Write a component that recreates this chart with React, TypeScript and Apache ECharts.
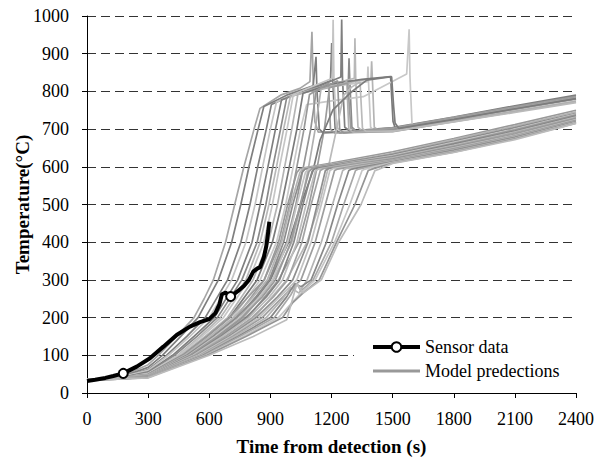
import React, { useEffect, useRef } from "react";
import * as echarts from "echarts";

// ---- Data (time s, temperature °C) ----
const xTicks = [0, 300, 600, 900, 1200, 1500, 1800, 2100, 2400];
const yTicks = [0, 100, 200, 300, 400, 500, 600, 700, 800, 900, 1000];

const sensorData: number[][] = [
  [0, 32], [40, 35], [90, 40], [129, 45], [178, 52], [244, 70], [309, 92], [375, 123],
  [440, 154], [505, 176], [555, 188], [600, 196], [630, 212], [650, 235], [662, 262],
  [680, 266], [705, 256], [740, 270], [770, 284], [795, 300], [816, 322], [835, 330],
  [850, 334], [868, 360], [880, 390], [890, 430], [895, 454],
];
const sensorMarkerTimes = [178, 705];

// Model predictions reaching flashover (upper group)
const u1 = [[0,35],[150,40],[300,75],[350,100],[440,150],[525,200],[575,250],[620,300],[680,400],[725,500],[770,600],[820,700],[849,755],[950,790],[1045,808],[1094,826],[1104,958],[1110,830],[1118,720],[1135,692],[1300,695],[1500,700],[1800,728],[2100,758],[2400,785]];
const u2 = [[0,34],[150,39],[300,68],[370,100],[460,150],[545,200],[645,300],[710,400],[755,500],[795,600],[840,700],[868,760],[980,790],[1110,815],[1124,892],[1128,810],[1140,700],[1160,690],[1500,698],[1800,726],[2100,755],[2400,782]];
const u3 = [[0,35],[150,39],[300,62],[390,100],[490,150],[580,200],[690,300],[755,400],[800,500],[838,600],[880,700],[905,765],[1050,800],[1195,828],[1201,928],[1207,820],[1218,700],[1240,690],[1500,702],[1800,730],[2100,760],[2400,787]];
const u4 = [[0,36],[150,40],[300,60],[400,100],[505,150],[600,200],[710,300],[780,400],[825,500],[862,600],[900,700],[930,772],[1070,805],[1204,835],[1208,990],[1212,830],[1225,705],[1250,692],[1500,697],[1800,724],[2100,752],[2400,780]];
const u5 = [[0,34],[150,38],[300,56],[420,100],[525,150],[625,200],[740,300],[810,400],[850,500],[888,600],[925,700],[955,778],[1100,805],[1246,838],[1250,991],[1254,835],[1265,705],[1290,695],[1500,704],[1800,732],[2100,762],[2400,790]];
const u6 = [[0,35],[150,39],[300,54],[430,100],[540,150],[640,200],[760,300],[835,400],[878,500],[912,600],[950,700],[980,783],[1120,808],[1283,830],[1286,888],[1290,825],[1300,705],[1320,695],[1500,695],[1800,722],[2100,750],[2400,778]];
const u7 = [[0,35],[150,38],[300,52],[445,100],[555,150],[655,200],[780,300],[850,400],[893,500],[930,600],[965,700],[998,786],[1150,812],[1312,835],[1315,941],[1319,830],[1330,705],[1350,695],[1500,700],[1800,727],[2100,756],[2400,784]];
const u8 = [[0,34],[150,38],[300,51],[450,100],[565,150],[670,200],[795,300],[868,400],[910,500],[945,600],[982,700],[1012,790],[1170,810],[1376,826],[1379,866],[1382,822],[1392,705],[1410,695],[1500,696],[1800,722],[2100,748],[2400,775]];
const u9 = [[0,35],[150,39],[300,50],[460,100],[580,150],[690,200],[815,300],[890,400],[935,500],[970,600],[1005,700],[1035,792],[1200,815],[1394,834],[1397,880],[1401,828],[1410,705],[1430,697],[1500,701],[1800,729],[2100,757],[2400,783]];
const u10 = [[0,36],[150,40],[300,49],[470,100],[590,150],[700,200],[835,300],[910,400],[955,500],[993,600],[1030,700],[1060,795],[1200,820],[1350,832],[1490,839],[1502,720],[1515,700],[1800,724],[2100,752],[2400,779]];
const u11 = [[0,35],[150,39],[300,48],[480,100],[600,150],[715,200],[850,300],[930,400],[975,500],[1012,600],[1048,700],[1078,765],[1200,775],[1356,786],[1569,846],[1581,965],[1585,840],[1595,715],[1610,705],[1800,725],[2100,750],[2400,776]];
const u12 = [[0,34],[150,38],[300,47],[490,100],[615,150],[730,200],[870,300],[950,400],[995,500],[1030,600],[1065,700],[1092,792],[1185,822],[1195,700],[1215,690],[1500,693],[1800,720],[2100,746],[2400,772]];
const u13 = [[0,35],[150,39],[300,46],[500,100],[630,150],[750,200],[895,300],[980,400],[1025,500],[1062,600],[1098,700],[1125,800],[1200,820],[1230,828],[1240,700],[1260,690],[1500,699],[1800,725],[2100,753],[2400,781]];
const u14 = [[0,34],[150,38],[300,45],[510,100],[645,150],[770,200],[915,300],[1005,400],[1050,500],[1088,600],[1120,700],[1148,805],[1250,818],[1275,826],[1285,700],[1305,692],[1500,695],[1800,721],[2100,747],[2400,773]];
const u15 = [[0,35],[150,38],[300,44],[520,100],[660,150],[790,200],[940,300],[1040,400],[1090,500],[1130,600],[1165,700],[1190,810],[1280,822],[1295,702],[1320,695],[1500,703],[1800,731],[2100,759],[2400,786]];
const u16 = [[0,34],[150,37],[300,43],[540,100],[680,150],[820,200],[980,300],[1080,400],[1140,500],[1185,600],[1225,700],[1260,790],[1300,812],[1340,825],[1352,702],[1370,694],[1500,694],[1800,719],[2100,744],[2400,770]];
const u17 = [[0,35],[150,39],[300,45],[500,100],[640,150],[760,200],[900,300],[990,400],[1050,500],[1110,591],[1144,671],[1207,751],[1290,795],[1373,830],[1495,839],[1505,760],[1512,716],[1530,702],[1800,726],[2100,754],[2400,781]];

// Model predictions without flashover (lower group)
const l1 = [[0,35],[150,39],[300,49],[470,100],[590,150],[700,200],[800,260],[870,300],[940,400],[985,500],[1030,585],[1045,595],[1200,610],[1500,640],[1800,675],[2100,712],[2400,750]];
const l2 = [[0,34],[150,38],[300,48],[480,100],[605,150],[720,200],[815,255],[885,300],[955,400],[1000,500],[1045,585],[1060,596],[1200,607],[1500,636],[1800,672],[2100,708],[2400,746]];
const l3 = [[0,35],[150,39],[300,47],[490,100],[620,150],[735,200],[830,255],[895,300],[965,400],[1010,500],[1055,585],[1070,594],[1200,605],[1500,633],[1800,668],[2100,704],[2400,742]];
const l4 = [[0,36],[150,40],[300,47],[500,100],[630,150],[750,200],[845,255],[910,300],[985,400],[1030,500],[1072,585],[1088,594],[1250,608],[1500,630],[1800,665],[2100,700],[2400,740]];
const l5 = [[0,34],[150,38],[300,46],[505,100],[640,150],[760,200],[860,255],[925,300],[1000,400],[1046,500],[1090,588],[1105,595],[1250,607],[1500,628],[1800,662],[2100,698],[2400,738]];
const l6 = [[0,35],[150,38],[300,45],[515,100],[655,150],[780,200],[880,255],[945,300],[1015,400],[1060,500],[1105,588],[1120,595],[1300,610],[1500,625],[1800,660],[2100,695],[2400,735]];
const l7 = [[0,35],[150,39],[300,45],[520,100],[665,150],[795,200],[895,255],[960,300],[1030,400],[1075,500],[1120,588],[1135,594],[1300,609],[1500,624],[1800,657],[2100,692],[2400,732]];
const l8 = [[0,34],[150,38],[300,44],[530,100],[680,150],[810,200],[915,255],[985,300],[1055,400],[1100,500],[1145,590],[1160,595],[1300,607],[1500,622],[1800,655],[2100,690],[2400,730]];
const l9 = [[0,35],[150,38],[300,44],[540,100],[695,150],[830,200],[935,255],[1010,300],[1085,400],[1130,500],[1170,590],[1185,595],[1350,608],[1500,620],[1800,652],[2100,686],[2400,727]];
const l10 = [[0,36],[150,39],[300,43],[545,100],[705,150],[845,200],[955,260],[1030,300],[1100,400],[1150,500],[1192,590],[1207,595],[1350,607],[1500,618],[1800,650],[2100,684],[2400,725]];
const l11 = [[0,34],[150,37],[300,43],[555,100],[715,150],[860,200],[970,260],[1050,300],[1120,400],[1170,500],[1215,590],[1230,594],[1350,605],[1500,617],[1800,648],[2100,682],[2400,723]];
const l12 = [[0,35],[150,38],[300,42],[560,100],[725,150],[880,200],[960,250],[1000,280],[1040,265],[1080,300],[1150,400],[1205,500],[1255,590],[1270,595],[1400,606],[1500,615],[1800,645],[2100,680],[2400,720]];
const l13 = [[0,35],[150,38],[300,42],[570,100],[740,150],[900,200],[980,255],[1020,290],[1050,282],[1100,300],[1175,400],[1230,500],[1285,590],[1300,594],[1400,604],[1500,613],[1800,644],[2100,678],[2400,719]];
const l14 = [[0,34],[150,37],[300,42],[575,100],[750,150],[920,200],[1000,260],[1030,290],[1050,270],[1110,300],[1200,400],[1260,500],[1318,590],[1333,594],[1500,612],[1800,642],[2100,676],[2400,718]];
const l15 = [[0,35],[150,38],[300,41],[585,100],[765,150],[940,200],[1040,260],[1120,300],[1215,400],[1290,500],[1350,590],[1365,594],[1500,611],[1800,640],[2100,675],[2400,717]];
const l16 = [[0,35],[150,37],[300,41],[590,100],[780,150],[960,200],[1010,240],[1060,265],[1140,300],[1225,400],[1315,500],[1380,590],[1395,593],[1500,610],[1800,639],[2100,674],[2400,716]];
const l17 = [[0,34],[150,37],[300,40],[600,100],[816,150],[980,194],[1030,290],[1060,265],[1150,300],[1235,400],[1345,500],[1413,590],[1430,593],[1500,609],[1800,638],[2100,672],[2400,715]];

const modelRuns = [u1,u2,u3,u4,u5,u6,u7,u8,u9,u10,u11,u12,u13,u14,u15,u16,u17,l1,l2,l3,l4,l5,l6,l7,l8,l9,l10,l11,l12,l13,l14,l15,l16,l17];

// ---- Styles ----
const runColors = [
  "#a6a6a6","#7f7f7f","#808080","#c4c4c4","#7f7f7f","#8a8a8a","#b8b8b8","#c6c6c6","#b4b4b4",
  "#7a7a7a","#c8c8c8","#999999","#959595","#b0b0b0","#9c9c9c","#bababa","#7c7c7c",
  "#999999","#b3b3b3","#8c8c8c","#c4c4c4","#9a9a9a","#868686","#bdbdbd","#a3a3a3","#8f8f8f",
  "#c2c2c2","#9e9e9e","#b5b5b5","#888888","#a8a8a8","#c6c6c6","#959595","#bcbcbc",
];
const serif = "serif";

export default function App() {
  const ref = useRef<HTMLDivElement>(null);
  useEffect(() => {
    if (!ref.current) return;
    const chart = echarts.init(ref.current, undefined, { renderer: "svg" });
    const modelSeries = modelRuns.map((run, i) => ({
      name: "Model predections",
      type: "line",
      data: run,
      symbol: "none",
      silent: true,
      z: 2,
      lineStyle: { width: 1.7, color: runColors[i % runColors.length] },
      itemStyle: { color: runColors[i % runColors.length] },
    }));
    const sensorSeries = {
      name: "Sensor data",
      type: "line",
      z: 5,
      symbol: "circle",
      symbolSize: 9,
      showSymbol: true,
      showAllSymbol: true,
      data: sensorData.map((p) =>
        sensorMarkerTimes.includes(p[0]) ? { value: p } : { value: p, symbol: "none" }
      ),
      lineStyle: { width: 4, color: "#000" },
      itemStyle: { color: "#fff", borderColor: "#000", borderWidth: 2 },
    };
    const fmt = (v: number) => String(v);
    chart.setOption({
      animation: false,
      backgroundColor: "#fff",
      grid: { left: 87, right: 27, top: 16, bottom: 66, containLabel: false, outerBoundsMode: "none" },
      legend: {
        orient: "vertical",
        left: 354,
        top: 331,
        backgroundColor: "#fff",
        padding: [7, 30, 8, 17],
        itemWidth: 47,
        itemHeight: 12,
        itemGap: 6,
        textStyle: { fontFamily: serif, fontSize: 18, color: "#000" },
        data: [
          { name: "Sensor data", lineStyle: { width: 4, color: "#000" }, itemStyle: { color: "#fff", borderColor: "#000", borderWidth: 2 } },
          { name: "Model predections", lineStyle: { width: 3, color: "#999999" }, itemStyle: { opacity: 0 } },
        ],
      },
      xAxis: {
        type: "value",
        min: xTicks[0],
        max: xTicks[xTicks.length - 1],
        interval: 300,
        name: "Time from detection (s)",
        nameLocation: "middle",
        nameGap: 44,
        nameMoveOverlap: false,
        nameTextStyle: { fontFamily: serif, fontSize: 19, fontWeight: "bold", color: "#000" },
        axisLine: { show: true, lineStyle: { color: "#000", width: 1 } },
        axisTick: { show: true, inside: false, length: 5, lineStyle: { color: "#000" } },
        axisLabel: { fontFamily: serif, fontSize: 18, color: "#000", margin: 17, formatter: fmt },
        splitLine: { show: false },
      },
      yAxis: {
        type: "value",
        min: yTicks[0],
        max: yTicks[yTicks.length - 1],
        interval: 100,
        name: "Temperature(°C)",
        nameLocation: "middle",
        nameGap: 55,
        nameRotate: 90,
        nameMoveOverlap: false,
        nameTextStyle: { fontFamily: serif, fontSize: 19, fontWeight: "bold", color: "#000" },
        axisLine: { show: true, lineStyle: { color: "#000", width: 1 } },
        axisTick: { show: true, inside: false, length: 5, lineStyle: { color: "#000" } },
        axisLabel: { fontFamily: serif, fontSize: 18, color: "#000", margin: 18, formatter: fmt },
        splitLine: { show: true, lineStyle: { color: "#333", width: 1, type: [9, 5] } },
      },
      series: [...modelSeries, sensorSeries],
    });
    return () => chart.dispose();
  }, []);
  return <div ref={ref} style={{ width: 603, height: 459, position: "absolute", left: 0, top: 0 }} />;
}
